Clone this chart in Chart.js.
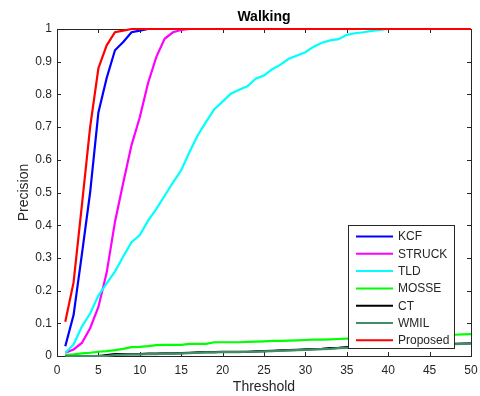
<!DOCTYPE html>
<html>
<head>
<meta charset="utf-8">
<script src="https://cdn.jsdelivr.net/npm/chart.js@4"></script>
<style>
  html, body { margin: 0; padding: 0; background: #fff; }
  #wrap { width: 480px; height: 396px; }
</style>
</head>
<body>
<div id="wrap"><canvas id="chart" width="480" height="396"></canvas></div>
<script>
// 閾値（横軸）
const thresholds = [1, 2, 3, 4, 5, 6, 7, 8, 9, 10, 11, 12, 13, 14, 15, 16, 17, 18, 19, 20,
  21, 22, 23, 24, 25, 26, 27, 28, 29, 30, 31, 32, 33, 34, 35, 36, 37, 38, 39, 40,
  41, 42, 43, 44, 45, 46, 47, 48, 49, 50];

// 各手法の precision
const kcf = [0.03, 0.125, 0.31, 0.50, 0.745, 0.85, 0.935, 0.96, 0.99, 0.995,
  1, 1, 1, 1, 1, 1, 1, 1, 1, 1, 1, 1, 1, 1, 1, 1, 1, 1, 1, 1,
  1, 1, 1, 1, 1, 1, 1, 1, 1, 1, 1, 1, 1, 1, 1, 1, 1, 1, 1, 1];
const struck = [0.01, 0.02, 0.04, 0.085, 0.15, 0.255, 0.41, 0.53, 0.645, 0.73,
  0.835, 0.915, 0.97, 0.99, 0.997, 1, 1, 1, 1, 1, 1, 1, 1, 1, 1, 1, 1, 1, 1, 1,
  1, 1, 1, 1, 1, 1, 1, 1, 1, 1, 1, 1, 1, 1, 1, 1, 1, 1, 1, 1];
const tld = [0.01, 0.035, 0.09, 0.13, 0.185, 0.222, 0.258, 0.304, 0.348, 0.37,
  0.414, 0.45, 0.49, 0.53, 0.568, 0.624, 0.675, 0.716, 0.755, 0.778,
  0.802, 0.814, 0.825, 0.848, 0.858, 0.877, 0.891, 0.909, 0.919, 0.929,
  0.946, 0.958, 0.965, 0.969, 0.982, 0.987, 0.99, 0.994, 0.997, 1,
  1, 1, 1, 1, 1, 1, 1, 1, 1, 1];
const mosse = [0.003, 0.005, 0.008, 0.01, 0.013, 0.015, 0.018, 0.022, 0.027, 0.028,
  0.03, 0.033, 0.034, 0.034, 0.034, 0.037, 0.037, 0.037, 0.042, 0.042,
  0.042, 0.042, 0.043, 0.044, 0.045, 0.046, 0.046, 0.047, 0.048, 0.049,
  0.05, 0.05, 0.051, 0.052, 0.053, 0.053, 0.054, 0.055, 0.056, 0.057,
  0.058, 0.059, 0.06, 0.061, 0.062, 0.063, 0.064, 0.065, 0.066, 0.067];
const ct = [0, 0, 0, 0, 0, 0.003, 0.006, 0.006, 0.006, 0.006,
  0.007, 0.007, 0.008, 0.008, 0.009, 0.01, 0.011, 0.012, 0.012, 0.013,
  0.013, 0.013, 0.013, 0.014, 0.015, 0.016, 0.017, 0.018, 0.019, 0.02,
  0.021, 0.022, 0.024, 0.025, 0.027, 0.028, 0.029, 0.03, 0.03, 0.031,
  0.032, 0.033, 0.033, 0.034, 0.035, 0.036, 0.036, 0.037, 0.038, 0.039];
const wmil = [0, 0, 0, 0, 0, 0, 0.003, 0.004, 0.005, 0.005,
  0.006, 0.006, 0.007, 0.007, 0.008, 0.009, 0.01, 0.011, 0.011, 0.012,
  0.012, 0.012, 0.013, 0.013, 0.014, 0.015, 0.016, 0.017, 0.018, 0.019,
  0.02, 0.021, 0.022, 0.024, 0.025, 0.026, 0.027, 0.028, 0.029, 0.03,
  0.031, 0.032, 0.032, 0.033, 0.034, 0.035, 0.035, 0.036, 0.037, 0.038];
const proposed = [0.105, 0.225, 0.46, 0.70, 0.88, 0.95, 0.99, 0.995, 1, 1,
  1, 1, 1, 1, 1, 1, 1, 1, 1, 1, 1, 1, 1, 1, 1, 1, 1, 1, 1, 1,
  1, 1, 1, 1, 1, 1, 1, 1, 1, 1, 1, 1, 1, 1, 1, 1, 1, 1, 1, 1];

const seriesNames = ['KCF', 'STRUCK', 'TLD', 'MOSSE', 'CT', 'WMIL', 'Proposed'];
const seriesData = [kcf, struck, tld, mosse, ct, wmil, proposed];
const seriesColors = ['#0000ff', '#ff00ff', '#00ffff', '#00ff00', '#000000', '#3f8f66', '#ff0000'];

const xTicks = [0, 5, 10, 15, 20, 25, 30, 35, 40, 45, 50];
const yTicks = [0, 0.1, 0.2, 0.3, 0.4, 0.5, 0.6, 0.7, 0.8, 0.9, 1];
const yTickLabels = ['0', '0.1', '0.2', '0.3', '0.4', '0.5', '0.6', '0.7', '0.8', '0.9', '1'];

const AXIS_COLOR = '#262626';
const FONT = '"Liberation Sans", Arial, sans-serif';

// 枠と内向きの目盛り（MATLAB 風）
const boxPlugin = {
  id: 'box',
  beforeDatasetsDraw(chart) {
    const { ctx, chartArea: a, scales } = chart;
    ctx.save();
    ctx.strokeStyle = AXIS_COLOR;
    ctx.lineWidth = 1;
    ctx.strokeRect(a.left + 0.5, a.top + 0.5, a.right - a.left, a.bottom - a.top);
    ctx.beginPath();
    for (const v of xTicks) {
      const x = Math.round(scales.x.getPixelForValue(v)) + 0.5;
      ctx.moveTo(x, a.bottom); ctx.lineTo(x, a.bottom - 4);
      ctx.moveTo(x, a.top); ctx.lineTo(x, a.top + 4);
    }
    for (const v of yTicks) {
      const y = Math.round(scales.y.getPixelForValue(v)) + 0.5;
      ctx.moveTo(a.left, y); ctx.lineTo(a.left + 4, y);
      ctx.moveTo(a.right, y); ctx.lineTo(a.right - 4, y);
    }
    ctx.stroke();
    ctx.restore();
  },
  afterDatasetsDraw(chart) {
    // 凡例（プロット領域内の右下）
    const { ctx } = chart;
    const left = 348, top = 225, w = 106, h = 123;
    ctx.save();
    ctx.fillStyle = '#fff';
    ctx.fillRect(left, top, w, h);
    ctx.strokeStyle = AXIS_COLOR;
    ctx.lineWidth = 1;
    ctx.strokeRect(left + 0.5, top + 0.5, w, h);
    ctx.font = '12px ' + FONT;
    ctx.textBaseline = 'middle';
    ctx.textAlign = 'left';
    seriesNames.forEach((name, i) => {
      const y = top + 11.5 + i * 17.3;
      ctx.strokeStyle = seriesColors[i];
      ctx.lineWidth = 2;
      ctx.beginPath();
      ctx.moveTo(356, y); ctx.lineTo(393, y);
      ctx.stroke();
      ctx.fillStyle = AXIS_COLOR;
      ctx.fillText(name, 398, y + 0.5);
    });
    ctx.restore();
  },
  afterDraw(chart) {
    const { ctx, chartArea: a } = chart;
    ctx.save();
    ctx.font = 'bold 14px ' + FONT;
    ctx.fillStyle = '#000';
    ctx.textAlign = 'center';
    ctx.textBaseline = 'middle';
    ctx.fillText('Walking', (a.left + a.right) / 2, 17);
    ctx.restore();
  }
};

const datasets = seriesNames.map((name, i) => ({
  label: name,
  data: thresholds.map((t, k) => ({ x: t, y: seriesData[i][k] })),
  borderColor: seriesColors[i],
  backgroundColor: seriesColors[i],
  borderWidth: 2.2,
  pointRadius: 0,
  tension: 0,
  fill: false,
  clip: 4,
  order: seriesNames.length - i // 後の系列を上に描く
}));

new Chart(document.getElementById('chart'), {
  type: 'line',
  data: { datasets },
  plugins: [boxPlugin],
  options: {
    responsive: false,
    animation: false,
    layout: { padding: { top: 29, right: 9, left: 0, bottom: 0 } },
    plugins: {
      legend: { display: false },
      title: { display: false },
      tooltip: { enabled: false }
    },
    scales: {
      x: {
        type: 'linear',
        min: 0,
        max: 50,
        afterBuildTicks: (scale) => { scale.ticks = xTicks.map(v => ({ value: v })); },
        afterFit: (scale) => { scale.height = 40; scale.paddingLeft = 0; scale.paddingRight = 0; },
        grid: { display: false, drawTicks: false },
        border: { display: false },
        ticks: { font: { family: FONT, size: 12 }, color: AXIS_COLOR, padding: 7, maxRotation: 0 },
        title: { display: true, text: 'Threshold', font: { family: FONT, size: 14 }, color: AXIS_COLOR, padding: { top: 1, bottom: 0 } }
      },
      y: {
        type: 'linear',
        min: 0,
        max: 1,
        afterBuildTicks: (scale) => { scale.ticks = yTicks.map(v => ({ value: v })); },
        afterFit: (scale) => { scale.width = 57; scale.paddingTop = 0; scale.paddingBottom = 0; },
        grid: { display: false, drawTicks: false },
        border: { display: false },
        ticks: {
          font: { family: FONT, size: 12 }, color: AXIS_COLOR, padding: 5,
          callback: (value, index) => yTickLabels[index]
        },
        title: { display: true, text: 'Precision', font: { family: FONT, size: 14 }, color: AXIS_COLOR, padding: { top: 16, bottom: 0 } }
      }
    }
  }
});
</script>
</body>
</html>
